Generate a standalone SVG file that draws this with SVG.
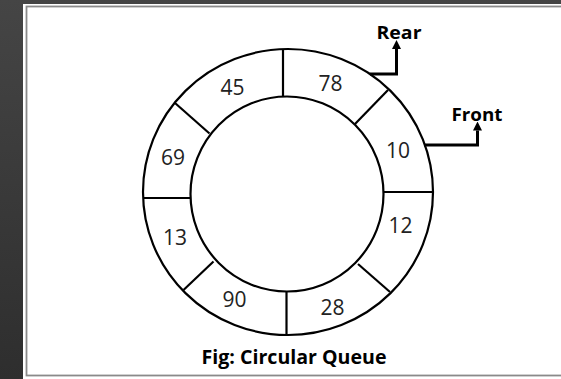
<svg xmlns="http://www.w3.org/2000/svg" width="561" height="379" viewBox="0 0 561 379">
<defs>
<linearGradient id="bg" x1="0" y1="0" x2="0" y2="1">
<stop offset="0" stop-color="#454545"/>
<stop offset="1" stop-color="#2e2e2e"/>
</linearGradient>
<marker id="ah" markerUnits="userSpaceOnUse" markerWidth="9" markerHeight="9" viewBox="0 0 8 8" refX="0" refY="4" orient="auto">
<path d="M0,0 L8,4 L0,8 z" fill="#000"/>
</marker>
</defs>
<style>
.ring{fill:none;stroke:#000;stroke-width:2.2}
.div{stroke:#000;stroke-width:2.2}
.num{font-family:"Open Sans","Liberation Sans",sans-serif;font-size:21px;fill:#222;text-anchor:middle}
.lbl{font-family:"Open Sans","Liberation Sans",sans-serif;font-weight:bold;fill:#000}
.conn{fill:none;stroke:#000;stroke-width:3}
</style>
<rect x="0" y="0" width="561" height="379" fill="url(#bg)"/>
<rect x="23" y="4" width="538" height="375" fill="#fff"/>
<rect x="26.5" y="6.5" width="540" height="369" fill="none" stroke="#8a8a8a" stroke-width="1.8"/>
<g id="queue-ring">
<ellipse class="ring" cx="288" cy="192" rx="145" ry="143"/>
<ellipse class="ring" cx="287" cy="194" rx="96.5" ry="97.5"/>
<line class="div" x1="283" y1="49" x2="283" y2="97"/>
<line class="div" x1="388" y1="90" x2="355" y2="124"/>
<line class="div" x1="383" y1="192" x2="433" y2="192"/>
<line class="div" x1="390" y1="292" x2="358" y2="264"/>
<line class="div" x1="286.5" y1="292" x2="286.5" y2="335"/>
<line class="div" x1="183.5" y1="290" x2="213.5" y2="261.5"/>
<line class="div" x1="143" y1="198" x2="190.5" y2="198"/>
<line class="div" x1="175" y1="103" x2="209.5" y2="133.5"/>
</g>
<g id="cell-45"><text class="num" x="232.5" y="95">45</text></g>
<g id="cell-78"><text class="num" x="330.5" y="90.5">78</text></g>
<g id="cell-10"><text class="num" x="398" y="158">10</text></g>
<g id="cell-12"><text class="num" x="400.5" y="233">12</text></g>
<g id="cell-28"><text class="num" x="332.5" y="315">28</text></g>
<g id="cell-90"><text class="num" x="234.5" y="306.5">90</text></g>
<g id="cell-13"><text class="num" x="175" y="245">13</text></g>
<g id="cell-69"><text class="num" x="173" y="165">69</text></g>
<g id="rear"><text class="lbl" x="376.5" y="38.5" font-size="17" textLength="45" lengthAdjust="spacingAndGlyphs">Rear</text></g>
<g id="front"><text class="lbl" x="451.5" y="121" font-size="17" textLength="51" lengthAdjust="spacingAndGlyphs">Front</text></g>
<g id="connectors">
<path class="conn" d="M370,74 H396.5 V49" marker-end="url(#ah)"/>
<path class="conn" d="M424,145 H477.5 V130.5" marker-end="url(#ah)"/>
</g>
<g id="caption"><text class="lbl" x="201.5" y="364" font-size="20" textLength="185" lengthAdjust="spacingAndGlyphs">Fig: Circular Queue</text></g>
</svg>
